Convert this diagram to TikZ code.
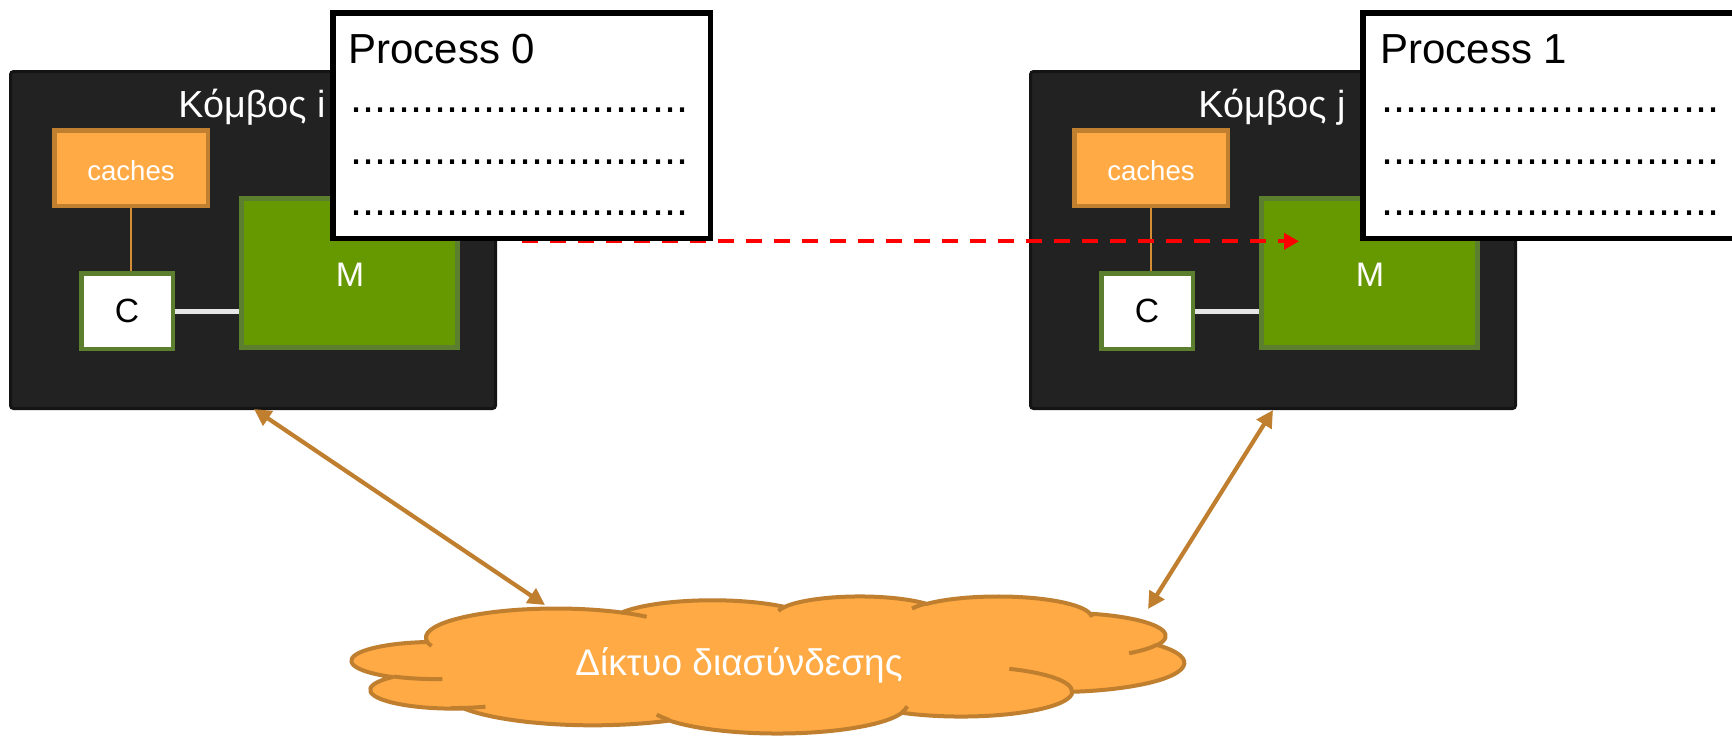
\documentclass[tikz,border=0pt]{standalone}
\usepackage{fontspec}
\setmainfont{Liberation Sans}
\usetikzlibrary{arrows.meta}
\definecolor{darkbg}{HTML}{222222}
\definecolor{darkedge}{HTML}{141414}
\definecolor{orfill}{HTML}{FFAA44}
\definecolor{oredge}{HTML}{C0802F}
\definecolor{grfill}{HTML}{669900}
\definecolor{gredge}{HTML}{5B7F2E}
\definecolor{linkgray}{HTML}{E6E6E6}
\definecolor{brownline}{HTML}{BF7F2F}
\newcommand{\fsz}[1]{\fontsize{#1}{#1}\selectfont}
\begin{document}
\begin{tikzpicture}[x=0.5pt,y=-0.5pt,
  nodebox/.style={draw=darkedge, fill=darkbg, line width=1.5pt, rounded corners=1.5pt, minimum width=242.5pt, minimum height=168.5pt, inner sep=0pt},
  cachebox/.style={draw=oredge, fill=orfill, line width=2.25pt, minimum width=76.75pt, minimum height=37.75pt, inner sep=0pt},
  cpubox/.style={draw=gredge, fill=white, line width=2.25pt, minimum width=45.75pt, minimum height=37.75pt, inner sep=0pt},
  membox/.style={draw=gredge, fill=grfill, line width=2.5pt, minimum width=108pt, minimum height=74.5pt, inner sep=0pt},
  procbox/.style={draw=black, fill=white, line width=2.75pt, minimum width=188.75pt, minimum height=112.75pt, inner sep=0pt},
  lbl/.style={inner sep=0pt, anchor=base},
  lblw/.style={inner sep=0pt, anchor=base west},
  orline/.style={draw=oredge!70!orfill, line width=1pt},
  grayline/.style={draw=linkgray, line width=2.5pt},
  redarrow/.style={draw=red, line width=2pt, dash pattern=on 7.85pt off 6.15pt, -{Triangle[length=7.5pt,width=8pt]}},
  brownarrow/.style={draw=brownline, line width=2.1pt, {Triangle[length=8.5pt,width=8.5pt]}-{Triangle[length=8.5pt,width=8.5pt]}},
  cloudline/.style={draw=brownline, line width=2pt, line join=round},
  cloudarc/.style n args={4}{insert path={arc[x radius={#1*0.962963pt}, y radius={#2*0.158565pt}, start angle={-atan2(#1*sin(#3),#2*cos(#3))}, delta angle={-mod(atan2(#1*sin(#3+#4),#2*cos(#3+#4))-atan2(#1*sin(#3),#2*cos(#3))+720,360)}]}}
]
\useasboundingbox (0,0) rectangle (1732,736);

% node i
\node[nodebox] (boxi) at (253,240) {};
\node[cachebox] (cachesi) at (131,168) {};
\node[cpubox] (cpui) at (127,311) {};
\node[membox] (mi) at (349.5,273) {};
\draw[orline] (cachesi.south) -- (cachesi.south |- cpui.north);
\draw[grayline] (cpui.east) -- (cpui.east -| mi.west);
\node[lbl, text=white, font=\fsz{13.8}] (tcachesi) at (131,180) {caches};
\node[lbl, font=\fsz{16.8}] (tcpui) at (127,322.5) {C};
\node[lbl, text=white, font=\fsz{17}] (tmi) at (350,286) {M};
\node[lblw, text=white, font=\fsz{18.85}] (ki) at (178,117) {Κόμβος i};

% node j
\node[nodebox] (boxj) at (1273,240) {};
\node[cachebox] (cachesj) at (1151,168) {};
\node[cpubox] (cpuj) at (1147,311) {};
\node[membox] (mj) at (1369.5,273) {};
\draw[orline] (cachesj.south) -- (cachesj.south |- cpuj.north);
\draw[grayline] (cpuj.east) -- (cpuj.east -| mj.west);
\node[lbl, text=white, font=\fsz{13.8}] (tcachesj) at (1151,180) {caches};
\node[lbl, font=\fsz{16.8}] (tcpuj) at (1147,322.5) {C};
\node[lbl, text=white, font=\fsz{17}] (tmj) at (1370,286) {M};
\node[lblw, text=white, font=\fsz{18.85}] (kj) at (1198,117) {Κόμβος j};

% red dashed message
\coordinate (rs) at (522,241.3);
\coordinate (re) at (1299,241.3);
\draw[redarrow] (rs) -- (re);

% process boxes
\node[procbox] (proc0) at (521.5,125.5) {};
\node[lblw, font=\fsz{21}] (p0t) at (348,63) {Process 0};
\node[lblw, font=\fsz{21.7}] (p0a) at (350,112.5) {............................};
\node[lblw, font=\fsz{21.7}] (p0b) at (350,164) {............................};
\node[lblw, font=\fsz{21.7}] (p0c) at (350,215.5) {............................};
\begin{scope}
\clip (0,0) rectangle (1732,736);
\node[procbox] (proc1) at (1551.5,125.5) {};
\end{scope}
\node[lblw, font=\fsz{21}] (p1t) at (1380,63) {Process 1};
\node[lblw, font=\fsz{21.7}] (p1a) at (1381,112.5) {............................};
\node[lblw, font=\fsz{21.7}] (p1b) at (1381,164) {............................};
\node[lblw, font=\fsz{21.7}] (p1c) at (1381,215.5) {............................};

% cloud
\draw[cloudline, fill=orfill] ({352+39.00*1.92593},{596+143.70*0.31713})
  [cloudarc={67.53}{91.90}{-190.48748}{123.78053}]
  [cloudarc={53.33}{72.67}{-144.10238}{89.94523}]
  [cloudarc={43.65}{59.45}{-145.80792}{99.72302}]
  [cloudarc={48.57}{65.95}{-130.98607}{117.24173}]
  [cloudarc={53.33}{72.73}{-78.70888}{109.02692}]
  [cloudarc={67.75}{92.20}{-46.26725}{130.269}]
  [cloudarc={57.85}{78.67}{0.62502}{114.03333}]
  [cloudarc={67.52}{92.15}{22.4516}{115.17255}]
  [cloudarc={77.20}{105.43}{66.24263}{75.71102}]
  [cloudarc={43.60}{59.18}{-274.94208}{146.73557}]
  [cloudarc={43.45}{59.45}{-246.8285}{152.51885}] -- cycle;
\draw[cloudline]
  ({352+46.93*1.92593},{596+261.77*0.31713}) [cloudarc={43.45}{59.45}{86.742}{26.4295}]
  ({352+69.28*1.92593},{596+348.99*0.31713}) [cloudarc={43.60}{59.18}{73.61047}{18.08002}]
  ({352+164.78*1.92593},{596+390.90*0.31713}) [cloudarc={67.52}{92.15}{137.62415}{13.76503}]
  ({352+288.27*1.92593},{596+347.51*0.31713}) [cloudarc={67.52}{92.15}{6.45327}{15.99835}]
  ({352+341.29*1.92593},{596+229.54*0.31713}) [cloudarc={57.85}{78.67}{-70.29235}{70.91737}]
  ({352+417.98*1.92593},{596+153.54*0.31713}) [cloudarc={53.33}{72.73}{30.31803}{27.7515}]
  ({352+383.24*1.92593},{596+54.26*0.31713}) [cloudarc={48.57}{65.95}{-13.74433}{14.8589}]
  ({352+290.78*1.92593},{596+39.52*0.31713}) [cloudarc={48.57}{65.95}{-149.18145}{18.19537}]
  ({352+221.41*1.92593},{596+47.20*0.31713}) [cloudarc={43.65}{59.45}{-163.49427}{17.68635}]
  ({352+140.00*1.92593},{596+51.92*0.31713}) [cloudarc={67.53}{91.90}{-66.70695}{12.31935}]
  ({352+41.27*1.92593},{596+157.89*0.31713}) [cloudarc={67.53}{91.90}{157.65435}{11.85817}];
\node[lbl, text=white, font=\fsz{18.5}] (net) at (739,675) {Δίκτυο διασύνδεσης};

% links to the network
\coordinate (ai) at (254,409);
\coordinate (bi) at (545,605);
\coordinate (aj) at (1273,410);
\coordinate (bj) at (1148,609);
\draw[brownarrow] (ai) -- (bi);
\draw[brownarrow] (aj) -- (bj);
\end{tikzpicture}
\end{document}
